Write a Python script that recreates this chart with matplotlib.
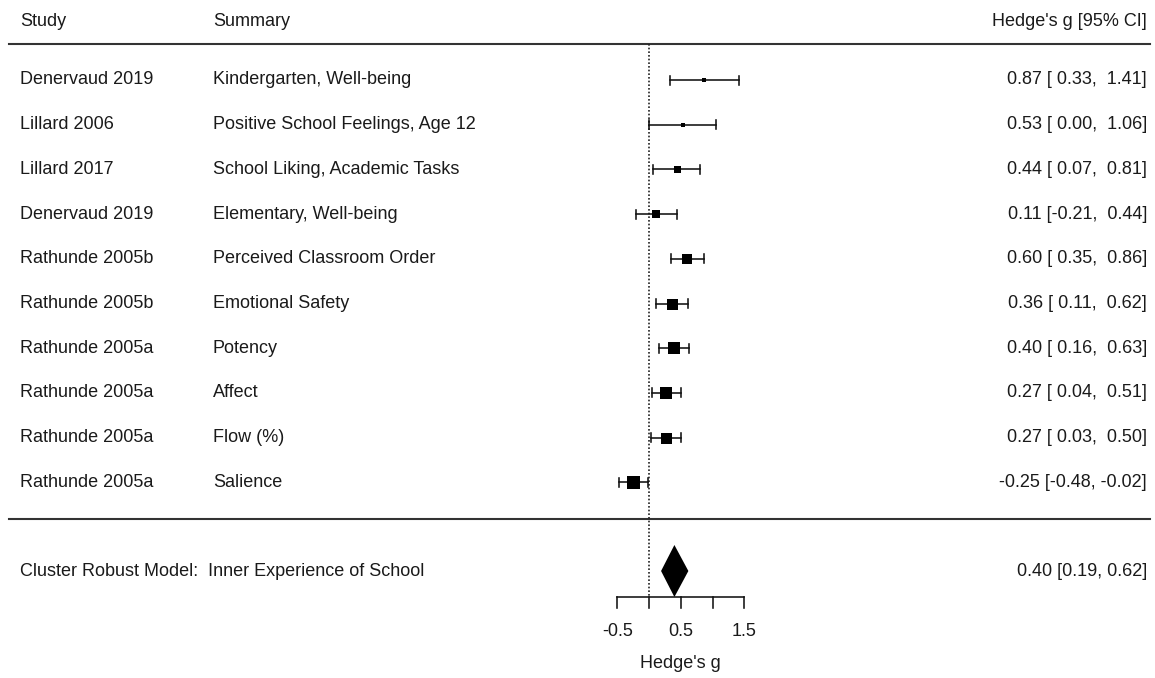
import numpy as np
import matplotlib
matplotlib.use("Agg")
from matplotlib import pyplot as plt

plt.rcParams['font.family'] = ['Liberation Sans', 'DejaVu Sans']

studies = ["Denervaud 2019", "Lillard 2006", "Lillard 2017", "Denervaud 2019",
           "Rathunde 2005b", "Rathunde 2005b", "Rathunde 2005a", "Rathunde 2005a",
           "Rathunde 2005a", "Rathunde 2005a"]
summaries = ["Kindergarten, Well-being", "Positive School Feelings, Age 12",
             "School Liking, Academic Tasks", "Elementary, Well-being",
             "Perceived Classroom Order", "Emotional Safety", "Potency", "Affect",
             "Flow (%)", "Salience"]
g = [0.87, 0.53, 0.44, 0.11, 0.60, 0.36, 0.40, 0.27, 0.27, -0.25]
ci_lo = [0.33, 0.00, 0.07, -0.21, 0.35, 0.11, 0.16, 0.04, 0.03, -0.48]
ci_hi = [1.41, 1.06, 0.81, 0.44, 0.86, 0.62, 0.63, 0.51, 0.50, -0.02]
# box side in pixels, scaled with study weight
box_px = [4, 4.5, 7, 8, 10.5, 11, 11.5, 12, 11, 13]

model_label = "Cluster Robust Model:  Inner Experience of School"
model_g, model_lo, model_hi = 0.40, 0.19, 0.62
ticks = [-0.5, 0, 0.5, 1, 1.5]
tick_labels = ["-0.5", "", "0.5", "", "1.5"]

W, H = 1155, 678
x0_px, unit_px = 649, 63.5      # pixel position of g=0 and pixels per unit

fig = plt.figure(figsize=(W / 100, H / 100), dpi=100)
ax = fig.add_axes([0, 0, 1, 1])
ax.set_xlim(-x0_px / unit_px, (W - x0_px) / unit_px)
ax.set_ylim(H, 0)
ax.axis('off')
tx = ax.get_yaxis_transform()

fs = 13.0
col = '#1a1a1a'
row_y = 80 + 44.7 * np.arange(len(g))
model_y = 571
axis_y = 597

def fmt(v):
    return f"{v:5.2f}"

# header
ax.text(20 / W, 21, "Study", transform=tx, fontsize=fs, color=col, va='center')
ax.text(213 / W, 21, "Summary", transform=tx, fontsize=fs, color=col, va='center')
ax.text(1147 / W, 21, "Hedge's g [95% CI]", transform=tx, fontsize=fs, color=col,
        va='center', ha='right')
ax.axhline(44, xmin=9 / W, xmax=1150 / W, color='#333333', lw=1.5)
ax.axhline(519, xmin=9 / W, xmax=1150 / W, color='#333333', lw=1.5)

# null line
ax.plot([0, 0], [44, axis_y], color='#222222', lw=1.2, ls=(0, (1, 1.2)))

# studies
for y, s, m, est, lo, hi, b in zip(row_y, studies, summaries, g, ci_lo, ci_hi, box_px):
    ax.text(20 / W, y, s, transform=tx, fontsize=fs, color=col, va='center')
    ax.text(213 / W, y, m, transform=tx, fontsize=fs, color=col, va='center')
    lab = f"{est:.2f} [{fmt(lo)}, {fmt(hi)}]"
    ax.text(1147 / W, y, lab, transform=tx, fontsize=fs, color=col,
            va='center', ha='right')
    ax.plot([lo, hi], [y, y], color='#111111', lw=1.15)
    for e in (lo, hi):
        ax.plot([e, e], [y - 4.5, y + 4.5], color='#111111', lw=1.15)
    ax.plot(est, y, marker='s', ms=b * 0.72, color='black', mec='black', mew=0)

# pooled estimate
ax.text(20 / W, model_y, model_label, transform=tx, fontsize=fs, color=col, va='center')
ax.text(1147 / W, model_y, f"{model_g:.2f} [{model_lo:.2f}, {model_hi:.2f}]",
        transform=tx, fontsize=fs, color=col, va='center', ha='right')
ax.fill([model_lo, model_g, model_hi, model_g],
        [model_y, model_y - 26, model_y, model_y + 26], color='black', lw=0)

# x axis
ax.plot([ticks[0], ticks[-1]], [axis_y, axis_y], color='#111111', lw=1.15)
for t, tl in zip(ticks, tick_labels):
    ax.plot([t, t], [axis_y, axis_y + 11], color='#111111', lw=1.15)
    if tl:
        ax.text(t, 632, tl, fontsize=fs, color=col, ha='center', va='center')
ax.text(0.5, 663, "Hedge's g", fontsize=fs, color=col, ha='center', va='center')

fig.savefig("out.png", dpi=100, facecolor='white')
